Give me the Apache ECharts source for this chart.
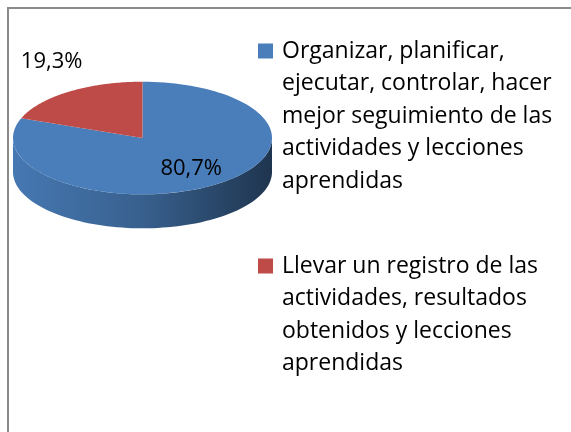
<!DOCTYPE html>
<html>
<head>
<meta charset="utf-8">
<script src="https://cdn.jsdelivr.net/npm/echarts@6/dist/echarts.min.js"></script>
<style>
html, body { margin: 0; padding: 0; background: #fff; }
#main { width: 571px; height: 432px; }
</style>
</head>
<body>
<div id="main"></div>
<script>
// datos del grafico
var categories = [
	'Organizar, planificar,\nejecutar, controlar, hacer\nmejor seguimiento de las\nactividades y lecciones\naprendidas',
	'Llevar un registro de las\nactividades, resultados\nobtenidos y lecciones\naprendidas'
];
var values = [80.7, 19.3];
var colors = ['#4a7ebb', '#be4b48'];

// geometria de la torta 3D (elipse + espesor)
var PIE = { cx: 142.5, cy: 138, rx: 129.5, ry: 56.3, depth: 34 };
var FONT = '"Open Sans", sans-serif';

var total = 0;
for (var k = 0; k < values.length; k++) total += values[k];

function ellipsePt(a, dy) {
	return [PIE.cx + PIE.rx * Math.cos(a), PIE.cy - PIE.ry * Math.sin(a) + (dy || 0)];
}

function fmtPct(v) {
	return v.toFixed(1).replace('.', ',') + '%';
}

// oscurece un color hex multiplicando los canales
function darken(hex, f) {
	var c = parseInt(hex.slice(1), 16);
	var r = Math.round(((c >> 16) & 255) * f);
	var g = Math.round(((c >> 8) & 255) * f);
	var b = Math.round((c & 255) * f);
	return 'rgb(' + r + ',' + g + ',' + b + ')';
}

function renderSlice(params, api) {
	var color = colors[params.seriesIndex];
	var val = api.value(0);
	var before = api.value(1);
	var sum = api.value(2);
	// empieza a las 12 y gira en sentido horario
	var a0 = Math.PI / 2 - before / sum * 2 * Math.PI;
	var a1 = a0 - val / sum * 2 * Math.PI;
	var children = [];

	// lado visible (mitad frontal, sin(a) < 0)
	var ranges = [[-Math.PI, 0], [-3 * Math.PI, -2 * Math.PI], [Math.PI, 2 * Math.PI]];
	for (var r = 0; r < ranges.length; r++) {
		var s = Math.max(a1, ranges[r][0]);
		var e = Math.min(a0, ranges[r][1]);
		if (e - s < 1e-6) continue;
		var pts = [];
		var n = 80;
		for (var i = 0; i <= n; i++) pts.push(ellipsePt(s + (e - s) * i / n, 0));
		for (var j = n; j >= 0; j--) pts.push(ellipsePt(s + (e - s) * j / n, PIE.depth));
		children.push({
			type: 'polygon',
			shape: { points: pts },
			style: {
				fill: {
					type: 'linear', global: true,
					x: PIE.cx - PIE.rx, y: 0, x2: PIE.cx + PIE.rx, y2: 0,
					colorStops: [
						{ offset: 0, color: darken(color, 0.95) },
						{ offset: 0.5, color: darken(color, 0.76) },
						{ offset: 1, color: darken(color, 0.42) }
					]
				}
			}
		});
	}

	// cara superior
	var top = [[PIE.cx, PIE.cy]];
	var m = 120;
	for (var t = 0; t <= m; t++) top.push(ellipsePt(a0 + (a1 - a0) * t / m, 0));
	children.push({
		type: 'polygon',
		shape: { points: top },
		style: { fill: color }
	});

	// etiqueta de porcentaje
	var mid = (a0 + a1) / 2;
	var lx, ly;
	if (val / sum > 0.25) {
		lx = PIE.cx + PIE.rx * 0.66 * Math.cos(mid);
		ly = PIE.cy - PIE.ry * 0.66 * Math.sin(mid);
	} else {
		lx = PIE.cx + (PIE.rx + 30) * Math.cos(mid);
		ly = PIE.cy - (PIE.ry + 37) * Math.sin(mid);
	}
	children.push({
		type: 'text',
		z2: 10,
		style: {
			text: fmtPct(val),
			x: lx, y: ly,
			fill: '#000',
			font: '22px ' + FONT,
			align: 'center',
			verticalAlign: 'middle'
		}
	});

	return { type: 'group', children: children };
}

// icono cuadrado alineado con la primera linea del texto
function legendIcon(lineCenter, h) {
	var y0 = lineCenter - 7.5;
	return 'path://M0 ' + y0 + 'L15 ' + y0 + 'L15 ' + (y0 + 15) + 'L0 ' + (y0 + 15) + 'Z M0 0M19 ' + h;
}

var series = [];
var acc = 0;
for (var s = 0; s < values.length; s++) {
	series.push({
		name: categories[s],
		type: 'custom',
		coordinateSystem: 'none',
		itemStyle: { color: colors[s] },
		renderItem: renderSlice,
		data: [[values[s], acc, total]]
	});
	acc += values[s];
}

var myChart = echarts.init(document.getElementById('main'));
myChart.setOption({
	animation: false,
	backgroundColor: '#fff',
	graphic: [{
		type: 'rect',
		shape: { x: 8, y: 8, width: 700, height: 600 },
		style: { fill: 'none', stroke: '#8a8a8a', lineWidth: 2 },
		silent: true
	}],
	legend: {
		orient: 'vertical',
		left: 258,
		top: 34.75,
		padding: 0,
		itemWidth: 19,
		itemHeight: 162.5,
		itemGap: 36.25,
		selectedMode: false,
		textStyle: {
			fontFamily: FONT,
			fontSize: 23,
			lineHeight: 32.5,
			color: '#000'
		},
		data: [
			{ name: categories[0], icon: legendIcon(16.25, 162.5) },
			{ name: categories[1], icon: legendIcon(32.5, 162.5) }
		]
	},
	series: series
});
</script>
</body>
</html>
